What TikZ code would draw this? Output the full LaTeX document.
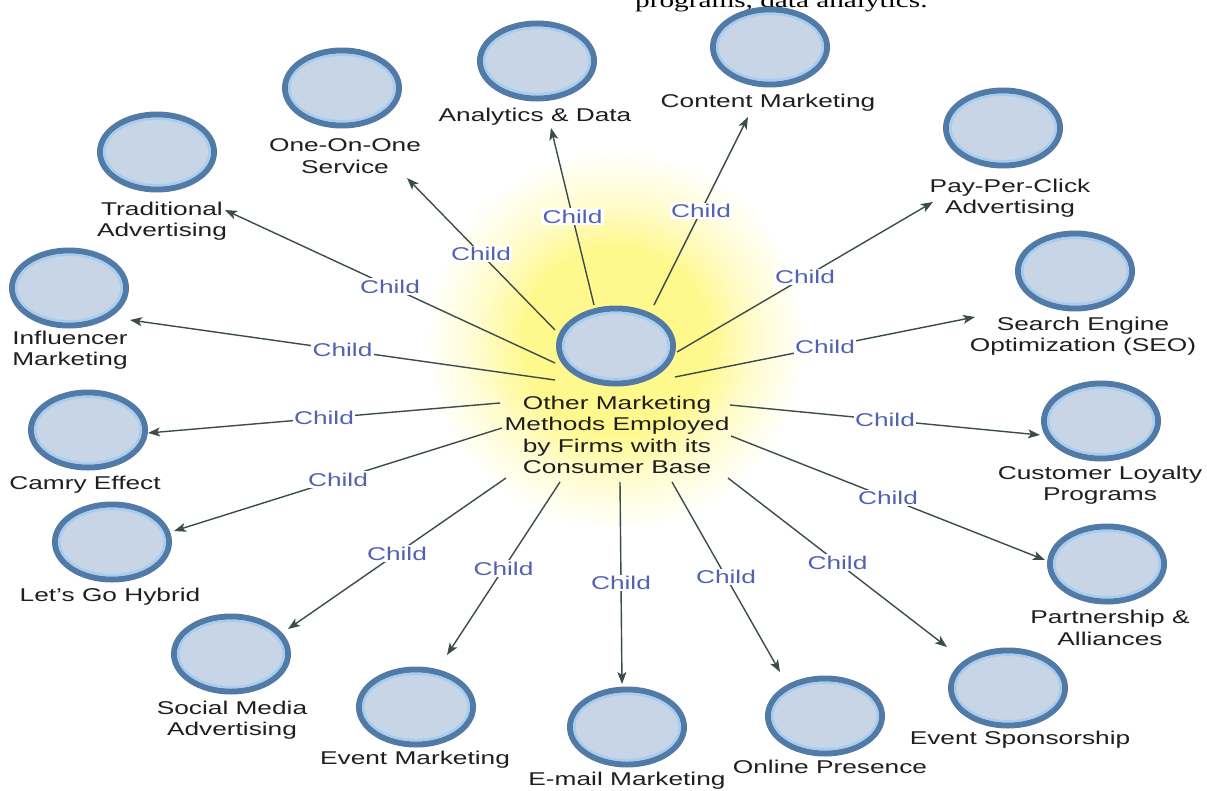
\documentclass[tikz,border=0pt]{standalone}
\usepackage{fontspec}
\setmainfont{Liberation Sans}[FakeStretch=1.42]
\newfontfamily\cutfont{Liberation Serif}[FakeStretch=1.42]
\usetikzlibrary{shapes.geometric,arrows.meta}

\definecolor{ringdark}{RGB}{82,122,166}
\definecolor{ringlight}{RGB}{168,204,238}
\definecolor{bubblefill}{RGB}{200,213,230}
\definecolor{linkc}{RGB}{60,76,76}
\definecolor{childc}{RGB}{82,98,178}
\definecolor{glowcore}{RGB}{255,248,140}
\definecolor{glowmid}{RGB}{255,252,205}
\pgfdeclareradialshading{hubglow}{\pgfpoint{0bp}{0bp}}{color(0bp)=(glowcore); color(12bp)=(glowcore); color(18bp)=(glowmid); color(25bp)=(white); color(50bp)=(white)}

\tikzset{
  bubble/.style={ellipse, minimum width=114pt, minimum height=75pt, inner sep=0pt,
    draw=ringdark, line width=6pt, fill=bubblefill},
  innerring/.style={draw=ringlight, line width=2.5pt},
  caption/.style={font=\fontsize{18.5pt}{21.5pt}\selectfont, align=center, inner sep=0pt, text=black!88},
  link/.style={draw=linkc, line width=1.4pt, -{Stealth[length=12pt,width=9pt,inset=3pt]}},
  childlbl/.style={font=\fontsize{18.5pt}{21.5pt}\selectfont, text=childc, fill=white, inner sep=1.5pt},
}
% an ellipse with its dark rim and lighter inner rim
\newcommand\bubbleat[2]{\node[bubble] (#1) at (#2) {};
  \draw[innerring] (#1.center) ellipse (52.75pt and 33.25pt);}

\begin{document}
\begin{tikzpicture}[x=1pt,y=-1pt]
\clip (0,0) rectangle (1207,790);
\fill[white] (0,0) rectangle (1207,790);

% glow behind the hub
\shade[shading=hubglow] (616,340) circle (191);

% text line cut by the top edge
\node[anchor=base west, inner sep=0pt, font=\cutfont\fontsize{20.6pt}{24pt}\selectfont] (topline) at (635,7) {programs, data analytics.};

% connector end points
\coordinate (s-ana) at (594,305);  \coordinate (t-ana) at (551,128);
\coordinate (s-con) at (654,305);  \coordinate (t-con) at (748,117);
\coordinate (s-one) at (555,330);  \coordinate (t-one) at (407,178);
\coordinate (s-tra) at (555,363);  \coordinate (t-tra) at (225,210);
\coordinate (s-inf) at (555,380);  \coordinate (t-inf) at (130,320);
\coordinate (s-cam) at (500,403);  \coordinate (t-cam) at (148,433);
\coordinate (s-let) at (502,428);  \coordinate (t-let) at (174,531);
\coordinate (s-soc) at (506,478);  \coordinate (t-soc) at (288,629);
\coordinate (s-evm) at (560,482);  \coordinate (t-evm) at (447,655);
\coordinate (s-ema) at (620,482);  \coordinate (t-ema) at (622,684);
\coordinate (s-onl) at (672,482);  \coordinate (t-onl) at (780,672);
\coordinate (s-spo) at (728,478);  \coordinate (t-spo) at (947,647);
\coordinate (s-par) at (731,436);  \coordinate (t-par) at (1045,560);
\coordinate (s-cus) at (730,405);  \coordinate (t-cus) at (1040,435);
\coordinate (s-seo) at (675,377);  \coordinate (t-seo) at (975,317);
\coordinate (s-ppc) at (677,352);  \coordinate (t-ppc) at (933,202);

\foreach \k in {ana,con,one,tra,inf,cam,let,soc,evm,ema,onl,spo,par,cus,seo,ppc}
  \draw[link] (s-\k) -- node[childlbl]{Child} (t-\k);

% ellipses
\bubbleat{hub}{616,346}
\bubbleat{ana}{537,61}
\bubbleat{con}{770,47}
\bubbleat{one}{342,88}
\bubbleat{tra}{157,152}
\bubbleat{ppc}{1003,128}
\bubbleat{seo}{1075,271}
\bubbleat{inf}{69,288}
\bubbleat{cam}{88,430}
\bubbleat{cus}{1101,421}
\bubbleat{let}{112,542}
\bubbleat{par}{1107,564}
\bubbleat{soc}{231,654}
\bubbleat{spo}{1008,688}
\bubbleat{evm}{416,707}
\bubbleat{ema}{627,727}
\bubbleat{onl}{825,716}

% captions
\node[caption] (hub-txt) at (617,435) {Other Marketing\\Methods Employed\\by Firms with its\\Consumer Base};
\node[caption] (ana-txt) at (535,117) {Analytics \& Data};
\node[caption] (con-txt) at (768,103) {Content Marketing};
\node[caption] (one-txt) at (345,156) {One-On-One\\Service};
\node[caption] (tra-txt) at (162,221) {Traditional\\Advertising};
\node[caption] (ppc-txt) at (1010,198) {Pay-Per-Click\\Advertising};
\node[caption] (seo-txt) at (1083,336) {Search Engine\\Optimization (SEO)};
\node[caption] (inf-txt) at (70,350) {Influencer\\Marketing};
\node[caption] (cam-txt) at (85,485) {Camry Effect};
\node[caption] (cus-txt) at (1100,485) {Customer Loyalty\\Programs};
\node[caption] (let-txt) at (110,597) {Let's Go Hybrid};
\node[caption] (par-txt) at (1110,628) {Partnership \&\\Alliances};
\node[caption] (soc-txt) at (232,720) {Social Media\\Advertising};
\node[caption] (spo-txt) at (1020,740) {Event Sponsorship};
\node[caption] (evm-txt) at (415,760) {Event Marketing};
\node[caption] (ema-txt) at (627,781) {E-mail Marketing};
\node[caption] (onl-txt) at (830,767) {Online Presence};
\end{tikzpicture}
\end{document}
